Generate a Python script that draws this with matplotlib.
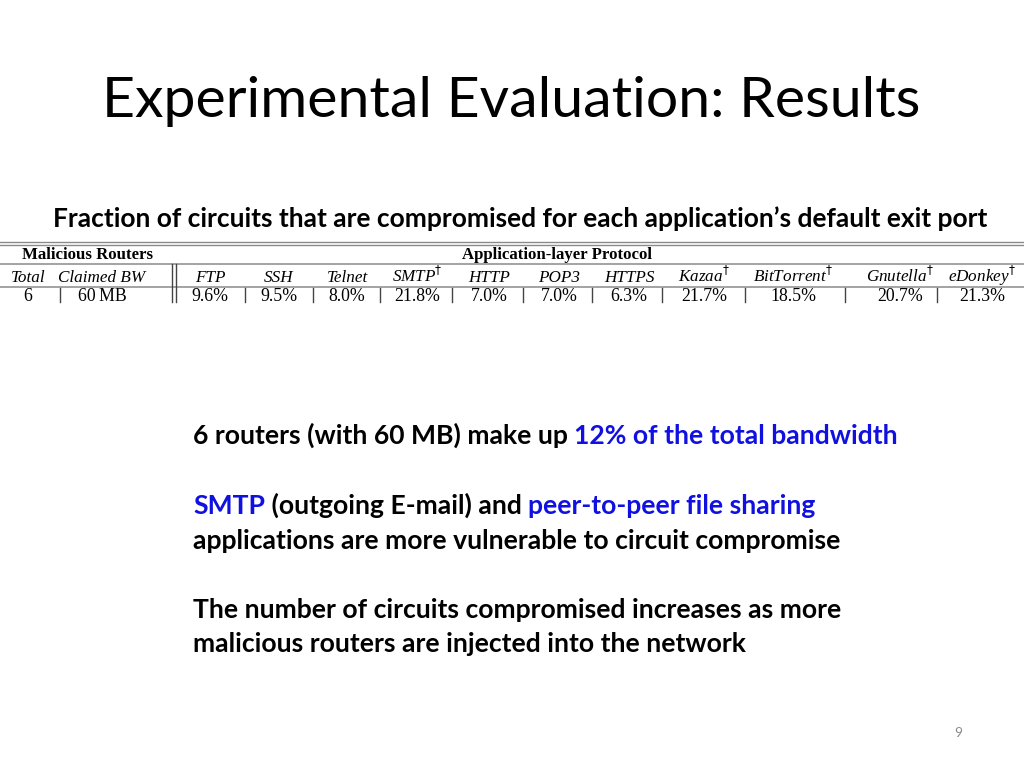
import matplotlib
matplotlib.use("Agg")
import matplotlib.pyplot as plt
from matplotlib.lines import Line2D

W, H = 1024, 768

title = "Experimental Evaluation: Results"
subtitle = "Fraction of circuits that are compromised for each application\u2019s default exit port"

group_headers = ["Malicious Routers", "Application-layer Protocol"]
col_headers = ["Total", "Claimed BW", "FTP", "SSH", "Telnet", "SMTP", "HTTP",
               "POP3", "HTTPS", "Kazaa", "BitTorrent", "Gnutella", "eDonkey"]
dagger = [False, False, False, False, False, True, False, False, False, True, True, True, True]
row_values = ["6", "60\u2009MB", "9.6%", "9.5%", "8.0%", "21.8%", "7.0%", "7.0%",
              "6.3%", "21.7%", "18.5%", "20.7%", "21.3%"]

bullets = [
    [("6 routers (with 60 MB) make up ", "black"), ("12% of the total bandwidth", "#1010e0")],
    [("SMTP", "#1010e0"), (" (outgoing E-mail) and ", "black"), ("peer-to-peer file sharing", "#1010e0")],
    [("applications are more vulnerable to circuit compromise", "black")],
    [("The number of circuits compromised increases as more", "black")],
    [("malicious routers are injected into the network", "black")],
]
page_num = "9"

fig = plt.figure(figsize=(W / 100, H / 100), dpi=100)
fig.patch.set_facecolor("white")
renderer = fig.canvas.get_renderer()


def fx(x):
    return x / W


def fy(y):
    return 1 - y / H


def seg_line(x0, y, segs, size, family, weight="normal", style="normal"):
    x = x0
    for s, c in segs:
        t = fig.text(fx(x), fy(y), s, color=c, fontsize=size, family=family,
                     weight=weight, style=style, ha="left", va="baseline")
        bb = t.get_window_extent(renderer)
        x = x + bb.width
    return x - x0


def fit_size(segs, target_w, family, weight="normal", style="normal"):
    tmp = []
    tot = 0
    for s, c in segs:
        t = fig.text(0, 0, s, fontsize=20, family=family, weight=weight, style=style)
        tot += t.get_window_extent(renderer).width
        tmp.append(t)
    for t in tmp:
        t.remove()
    return 20 * target_w / tot


sans = ["Lato", "DejaVu Sans"]
serif = ["Liberation Serif", "DejaVu Serif"]

# title
s = fit_size([(title, "k")], 820, sans)
seg_line(102, 117, [(title, "black")], s, sans)

# subtitle
s = fit_size([(subtitle, "k")], 937, sans, weight="bold")
seg_line(53, 227, [(subtitle, "black")], s, sans, weight="bold")

# body text
bs = fit_size(bullets[0], 703, sans, weight="bold")
ys = [444, 514, 549, 618, 652]
for segs, y in zip(bullets, ys):
    seg_line(193, y, segs, bs, sans, weight="bold")

fig.text(fx(958), fy(733), page_num, fontsize=10, color="#8a8a8a", family=sans,
         ha="center", va="center")

# ---- table ----
gray = "#8a8a8a"


def hline(y, x0=0, x1=1024, lw=1.2, c=gray):
    fig.add_artist(Line2D([fx(x0), fx(x1)], [fy(y), fy(y)], color=c, lw=lw))


def vline(x, y0, y1, lw=1.0, c="#444444"):
    fig.add_artist(Line2D([fx(x), fx(x)], [fy(y0), fy(y1)], color=c, lw=lw))


hline(242, lw=1.0)
hline(245, lw=1.0)
hline(264, lw=1.1)
hline(287, lw=1.1)

col_x = [28, 102, 210, 279, 347, 417, 489, 559, 629, 704, 793, 900, 982]
seps = [60, 245, 313, 380, 452, 523, 592, 662, 745, 845, 937]
for x in seps:
    vline(x, 288, 302)
vline(172, 264, 302)
vline(176, 264, 302)

gsize = fit_size([(group_headers[0], "k")], 131, serif, weight="bold")
tsize = 12.3
vsize = 12.8
fig.text(fx(88), fy(259), group_headers[0], fontsize=gsize, family=serif, weight="bold",
         ha="center", va="baseline")
fig.text(fx(557), fy(259), group_headers[1], fontsize=gsize, family=serif, weight="bold",
         ha="center", va="baseline")
for x, h, d in zip(col_x, col_headers, dagger):
    lab = h + ("$^{\\dagger}$" if d else "")
    fig.text(fx(x), fy(282), lab, fontsize=tsize, family=serif, style="italic",
             ha="center", va="baseline")
for x, v in zip(col_x, row_values):
    fig.text(fx(x), fy(301), v, fontsize=vsize, family=serif, ha="center", va="baseline")

fig.savefig("out.png", dpi=100, facecolor="white")
